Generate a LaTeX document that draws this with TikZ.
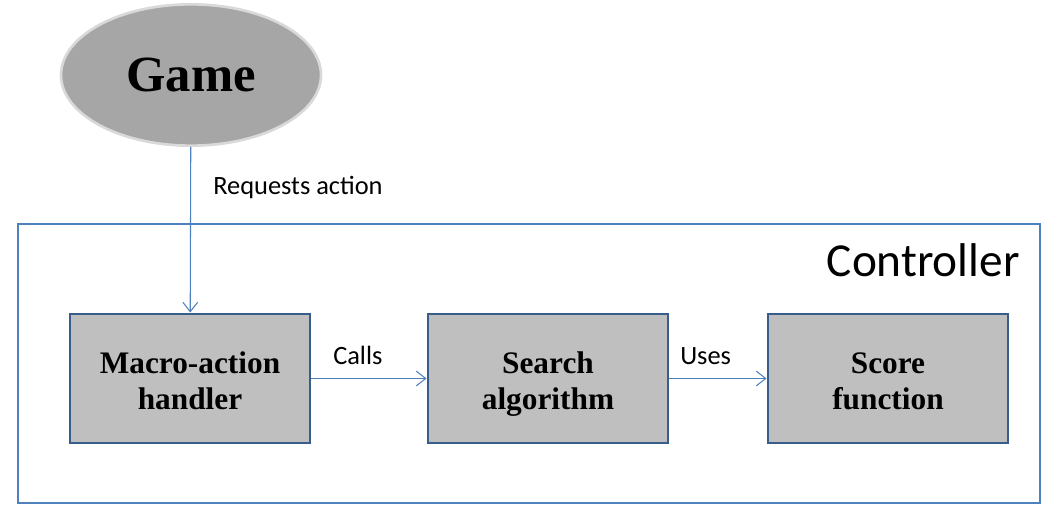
\documentclass[tikz,border=0pt]{standalone}
\usepackage{fontspec}
\setmainfont{Carlito}
\newfontfamily\headfont{Liberation Serif}
\usetikzlibrary{shapes.geometric,arrows.meta}
\newcommand{\twolines}[2]{\raisebox{-4pt}[\height][\depth]{\begin{tabular}{@{}c@{}}#1\\#2\end{tabular}}}

\begin{document}
\begin{tikzpicture}[x=0.75pt,y=-0.75pt,
	part/.style={draw=boxblue,line width=2.2pt,fill=boxgray,minimum width=180pt,minimum height=96.75pt,inner sep=0pt,font=\headfont\bfseries\fontsize{23.5}{27}\selectfont},
	link/.style={draw=lineblue,line width=0.8pt,-{Straight Barb[length=7pt,width=11pt,line width=0.8pt]}},
	lbl/.style={inner sep=0pt,font=\fontsize{19.8}{24}\selectfont}]
	\definecolor{boxgray}{RGB}{191,191,191}
	\definecolor{boxblue}{RGB}{56,93,138}
	\definecolor{lineblue}{RGB}{79,129,189}
	\definecolor{gamegray}{RGB}{166,166,166}
	\definecolor{rimgray}{RGB}{217,217,217}

	\useasboundingbox (0,0) rectangle (1058,513);

	\node[draw=lineblue,line width=1.6pt,minimum width=766.5pt,minimum height=209.25pt] (ctrl) at (529,363.5) {};
	\node[anchor=base east,inner sep=0pt,font=\fontsize{35.5}{42}\selectfont] (ctrltext) at (1020,277) {Controller};

	\node[ellipse,draw=rimgray,line width=2pt,fill=gamegray,minimum width=195pt,minimum height=106pt,font=\headfont\bfseries\fontsize{38}{44}\selectfont] (game) at (191,75) {Game};

	\node[part] (macro) at (190,378.5) {\twolines{Macro-action}{handler}};
	\node[part] (search) at (548,378.5) {\twolines{Search}{algorithm}};
	\node[part] (score) at (888,378.5) {\twolines{Score}{function}};

	\draw[link] (game) -- (macro);
	\draw[link] (macro) -- (search);
	\draw[link] (search) -- (score);

	\node[lbl,anchor=base west] (req) at (213,195) {Requests action};
	\node[lbl,anchor=base west] (calls) at (333,365) {Calls};
	\node[lbl,anchor=base west] (uses) at (680,365) {Uses};
\end{tikzpicture}
\end{document}
